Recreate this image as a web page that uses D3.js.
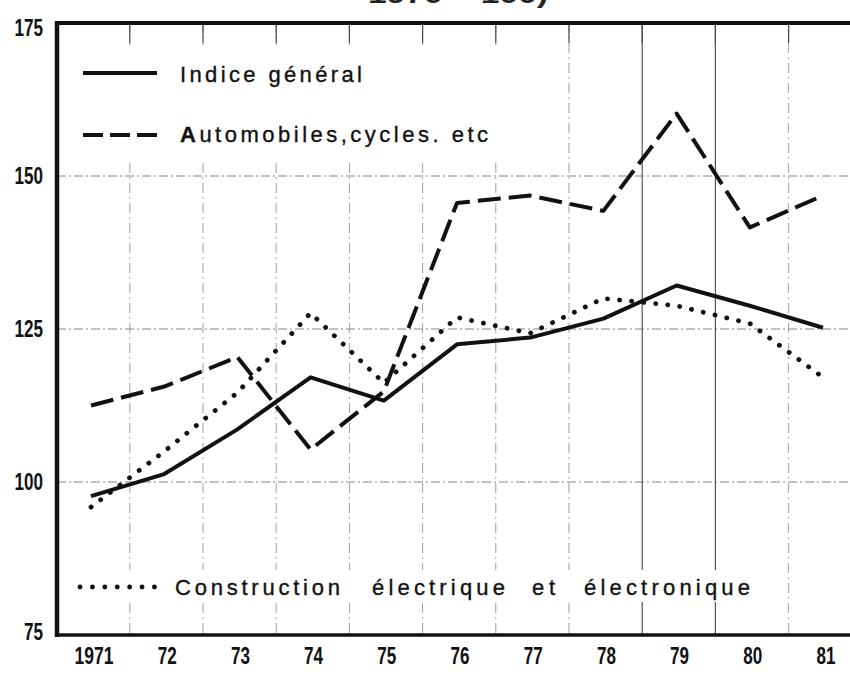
<html lang="fr">
<head>
    <meta charset="UTF-8">
    <title>Indices de production</title>
    <script src="https://d3js.org/d3.v7.min.js"></script>
    <style>
        body { margin: 0; background: #fff; }
        svg { display: block; }
        .axis-label {
            font-family: 'Liberation Sans', Arimo, sans-serif;
            font-weight: bold;
            font-size: 23px;
            fill: #111;
        }
        .legend-text {
            font-family: 'Liberation Sans', Arimo, sans-serif;
            font-size: 22px;
            fill: #111;
            stroke: #111;
            stroke-width: 0.35px;
        }
    </style>
</head>
<body>
<div id="chart"></div>
<script>
    // values (index, 1970 = 100)
    const years = [1971, 1972, 1973, 1974, 1975, 1976, 1977, 1978, 1979, 1980, 1981];
    const yearLabels = ['1971', '72', '73', '74', '75', '76', '77', '78', '79', '80', '81'];
    const indiceGeneral = [97.7, 101.3, 108.6, 117.1, 113.3, 122.5, 123.6, 126.7, 132.1, 128.8, 125.2];
    const automobiles = [112.5, 115.6, 120.4, 105.3, 114.8, 145.6, 146.8, 144.3, 160.2, 141.6, 146.8];
    const construction = [95.9, 105.0, 114.6, 127.6, 116.2, 126.9, 124.3, 130.0, 128.8, 125.9, 117.1];
    const yTicks = [75, 100, 125, 150, 175];
    const gridValues = [100, 125, 150];
    const gridYears = [1971.53, 1972.53, 1973.53, 1974.53, 1975.53, 1976.53, 1977.53, 1978.53, 1979.53, 1980.53];
    const legendLabels = ['Indice général', 'Automobiles,cycles. etc'];
    const bottomLegendWords = ['Construction', 'électrique', 'et', 'électronique'];
    const titleFragment = '1970 = 100)';

    const width = 850, height = 675;
    const frame = { left: 57, top: 23, bottom: 635 };

    const svg = d3.select('#chart').append('svg')
        .attr('width', width)
        .attr('height', height);

    const x = d3.scaleLinear().domain([1971, 1981]).range([91, 823]);
    const y = d3.scaleLinear().domain([75, 175]).range([frame.bottom, frame.top]);

    // cut-off title line at the very top of the scan
    svg.append('text')
        .attr('x', 368)
        .attr('y', 3)
        .attr('textLength', 180)
        .attr('lengthAdjust', 'spacingAndGlyphs')
        .style('font-family', "'Liberation Sans', sans-serif")
        .style('font-weight', 'bold')
        .style('font-size', '24px')
        .style('fill', '#222')
        .text(titleFragment);

    // grid
    const grid = svg.append('g');
    grid.selectAll('line.h')
        .data(gridValues)
        .join('line')
        .attr('class', 'h')
        .attr('x1', frame.left)
        .attr('x2', width)
        .attr('y1', d => y(d))
        .attr('y2', d => y(d))
        .attr('stroke', '#777')
        .attr('stroke-width', 0.9)
        .attr('stroke-dasharray', '9,3,2,3');

    grid.selectAll('line.v')
        .data(gridYears)
        .join('line')
        .attr('class', 'v')
        .attr('x1', d => x(d))
        .attr('x2', d => x(d))
        .attr('y1', frame.top)
        .attr('y2', frame.bottom)
        .attr('stroke', (d, i) => (i === 7 || i === 8) ? '#555' : '#888')
        .attr('stroke-width', (d, i) => (i === 7 || i === 8) ? 1.2 : 0.8)
        .attr('stroke-dasharray', (d, i) => (i === 7 || i === 8) ? null : '10,4,2,4');

    // legend areas blank out the grid behind them, like in the original
    svg.append('rect').attr('x', 60).attr('y', 45).attr('width', 440).attr('height', 115).attr('fill', '#fff');
    svg.append('rect').attr('x', 70).attr('y', 570).attr('width', 690).attr('height', 32).attr('fill', '#fff');

    // short ticks hanging from the top edge
    svg.append('g').selectAll('line')
        .data(gridYears)
        .join('line')
        .attr('x1', d => x(d))
        .attr('x2', d => x(d))
        .attr('y1', frame.top)
        .attr('y2', frame.top + 20)
        .attr('stroke', '#444')
        .attr('stroke-width', 1.2);

    // frame
    const frameG = svg.append('g').attr('stroke', '#111').attr('fill', 'none');
    frameG.append('line').attr('x1', frame.left).attr('x2', frame.left)
        .attr('y1', frame.top - 2).attr('y2', frame.bottom + 2).attr('stroke-width', 4.5);
    frameG.append('line').attr('x1', frame.left - 2).attr('x2', width)
        .attr('y1', frame.top).attr('y2', frame.top).attr('stroke-width', 4);
    frameG.append('line').attr('x1', frame.left - 2).attr('x2', width)
        .attr('y1', frame.bottom).attr('y2', frame.bottom).attr('stroke-width', 3.5);

    // axis labels (condensed look through textLength)
    svg.append('g').selectAll('text')
        .data(yTicks)
        .join('text')
        .attr('class', 'axis-label')
        .attr('x', 43)
        .attr('y', d => y(d))
        .attr('dy', d => d === 175 ? '0.55em' : (d === 75 ? '0.2em' : '0.36em'))
        .attr('text-anchor', 'end')
        .attr('textLength', d => String(d).length * 9.5)
        .attr('lengthAdjust', 'spacingAndGlyphs')
        .text(d => d);

    svg.append('g').selectAll('text')
        .data(years)
        .join('text')
        .attr('class', 'axis-label')
        .attr('x', d => x(d) + 3)
        .attr('y', 664)
        .attr('text-anchor', 'middle')
        .attr('textLength', (d, i) => yearLabels[i].length === 4 ? 39 : 19)
        .attr('lengthAdjust', 'spacingAndGlyphs')
        .text((d, i) => yearLabels[i]);

    // series
    const line = d3.line()
        .x((d, i) => x(years[i]))
        .y(d => y(d));

    const series = [
        { values: indiceGeneral, dash: null, width: 4, cap: 'butt' },
        { values: automobiles, dash: '23,8', width: 4, cap: 'butt' },
        { values: construction, dash: '0.1,12', width: 4.8, cap: 'round' }
    ];

    svg.append('g').selectAll('path')
        .data(series)
        .join('path')
        .attr('d', d => line(d.values))
        .attr('fill', 'none')
        .attr('stroke', '#111')
        .attr('stroke-width', d => d.width)
        .attr('stroke-linejoin', 'round')
        .attr('stroke-linecap', d => d.cap)
        .attr('stroke-dasharray', d => d.dash);

    // legend
    const leg = svg.append('g');
    leg.append('line').attr('x1', 83).attr('x2', 157).attr('y1', 73).attr('y2', 73)
        .attr('stroke', '#111').attr('stroke-width', 4);
    leg.append('line').attr('x1', 83).attr('x2', 157).attr('y1', 135).attr('y2', 135)
        .attr('stroke', '#111').attr('stroke-width', 4).attr('stroke-dasharray', '20,7');
    leg.append('line').attr('x1', 80).attr('x2', 155).attr('y1', 587).attr('y2', 587)
        .attr('stroke', '#111').attr('stroke-width', 4.8)
        .attr('stroke-linecap', 'round').attr('stroke-dasharray', '0.1,12.3');

    leg.append('text').attr('class', 'legend-text')
        .attr('x', 180).attr('y', 82)
        .attr('textLength', 182).attr('lengthAdjust', 'spacing')
        .text(legendLabels[0]);

    const autoText = leg.append('text').attr('class', 'legend-text')
        .attr('x', 180).attr('y', 142)
        .attr('textLength', 308).attr('lengthAdjust', 'spacing');
    autoText.append('tspan').style('font-weight', 'bold').text(legendLabels[1].slice(0, 1));
    autoText.append('tspan').text(legendLabels[1].slice(1));

    const wordX = [175, 372, 532, 584];
    const wordW = [165, 133, 23, 166];
    leg.selectAll('text.word')
        .data(bottomLegendWords)
        .join('text')
        .attr('class', 'legend-text word')
        .attr('x', (d, i) => wordX[i])
        .attr('y', 595)
        .attr('textLength', (d, i) => wordW[i])
        .attr('lengthAdjust', 'spacing')
        .text(d => d);
</script>
</body>
</html>
